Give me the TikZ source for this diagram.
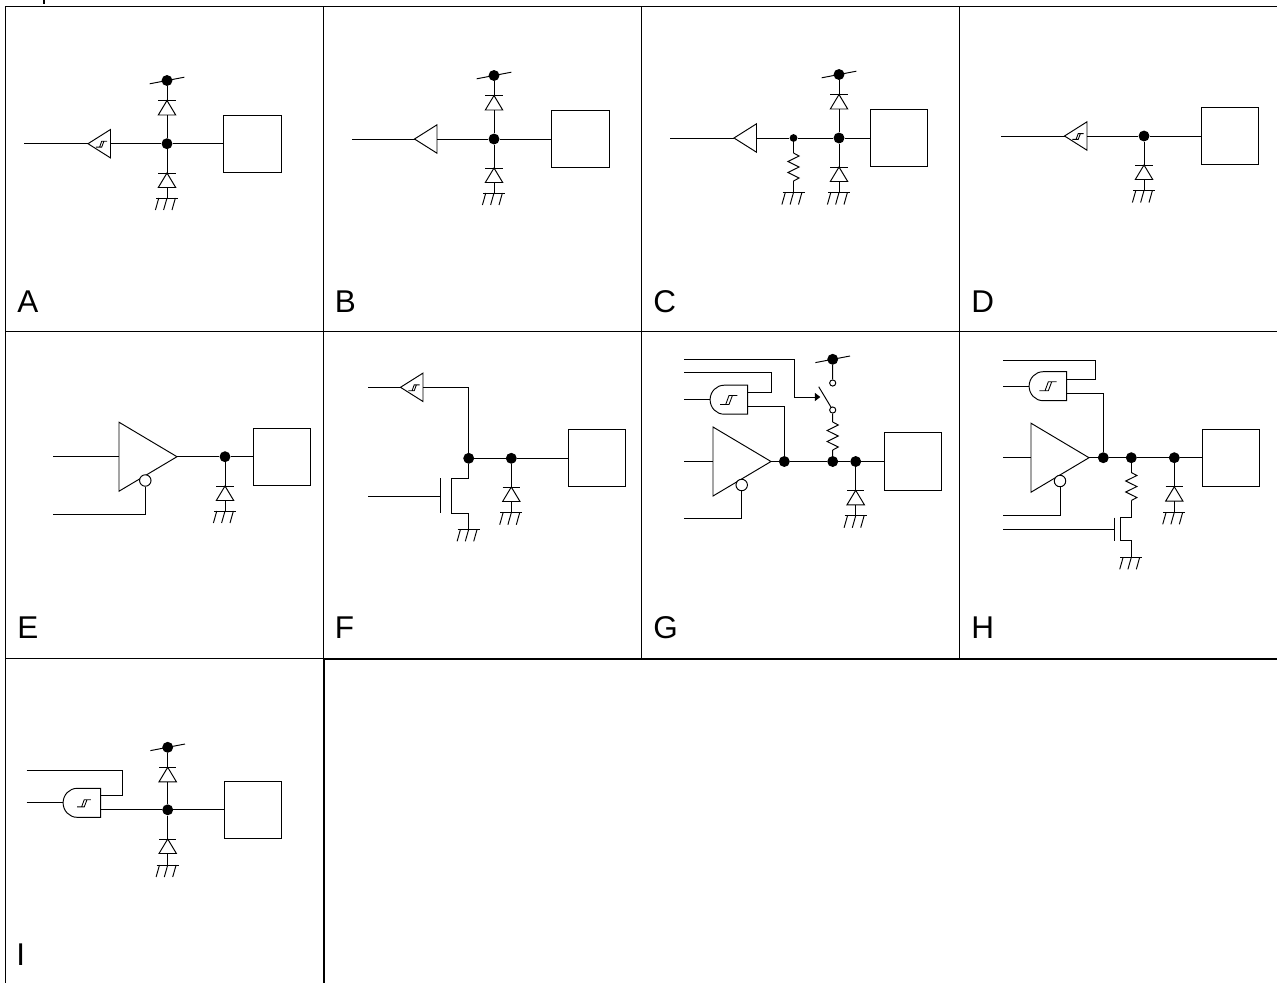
\documentclass[tikz,border=0pt]{standalone}
\usepackage{fontspec}
\setmainfont{Liberation Sans}
\usetikzlibrary{arrows.meta}
\tikzset{
  x=0.75pt,y=-0.75pt,
  ln/.style={line width=0.72pt,line join=miter,black},
  grid/.style={line width=0.72pt,black},
  heavy/.style={line width=1.5pt,black},
  dot/.style={circle,fill=black,draw=none,inner sep=0pt,minimum size=8.2pt},
  smalldot/.style={circle,fill=black,draw=none,inner sep=0pt,minimum size=5.8pt},
  bubble/.style={circle,ln,draw,fill=white,inner sep=0pt,minimum size=8.6pt},
  opencirc/.style={circle,ln,draw,fill=white,inner sep=0pt,minimum size=4.6pt},
  box/.style={rectangle,ln,draw,fill=white,inner sep=0pt,minimum size=42.8pt},
  lab/.style={anchor=base west,inner sep=0pt,font=\fontsize{23.6pt}{24pt}\selectfont},
  diode/.pic={
    \draw[ln] (-8.7,0) -- (8.7,0);
    \draw[ln] (0,0) -- (8.7,14.5) -- (-8.7,14.5) -- cycle;
    \coordinate (-a) at (0,0);
    \coordinate (-b) at (0,14.5);
  },
  gnd/.pic={
    \draw[ln] (-11,0) -- (11,0);
    \draw[ln] (-8.2,0) -- (-11.6,12) (0,0) -- (-3.4,12) (8.4,0) -- (5,12);
    \coordinate (-a) at (0,0);
  },
  rail/.pic={\draw[ln] (-17.3,3.3) -- (17.3,-3.3);},
  res/.pic={
    \draw[ln] (0,0) -- (5.6,3) -- (-5.6,8.5) -- (5.6,14) -- (-5.6,19.5) -- (5.6,25) -- (0,28);
    \coordinate (-a) at (0,0);
    \coordinate (-b) at (0,28);
  },
  smalltri/.pic={
    \draw[ln] (0,0) -- (22.5,-14.2) -- (22.5,14.2) -- cycle;
    \coordinate (-in) at (0,0);
    \coordinate (-out) at (22.5,0);
  },
  hyst/.pic={
    \draw[line width=0.65pt] (-8.7,4.5) -- (0.3,4.5) -- (3.7,-4.5) -- (8.7,-4.5)
      (-3,4.5) -- (0.3,-4.5) -- (3.7,-4.5);
  },
  bigtri/.pic={
    \draw[ln] (0,0) -- (-58,-34.5) -- (-58,34.5) -- cycle;
    \coordinate (-out) at (0,0);
    \coordinate (-in) at (-58,0);
  },
  andgate/.pic={
    \draw[ln] (0,-14.5) -- (-23.6,-14.5) arc[start angle=-90,end angle=-270,x radius=14,y radius=14.5] -- (0,14.5) -- cycle;
    \coordinate (-in) at (-37.6,0);
    \coordinate (-o1) at (0,-7);
    \coordinate (-o2) at (0,7);
  },
}
\begin{document}
\begin{tikzpicture}
\useasboundingbox (0,0) rectangle (1277,983);
% table
\coordinate (tl) at (5.5,6); \coordinate (tr) at (1277,6);
\coordinate (r1l) at (5.5,331.7); \coordinate (r1r) at (1277,331.7);
\coordinate (r2l) at (5.5,658.4); \coordinate (r2m) at (323.3,658.4); \coordinate (r2r) at (1277,659);
\coordinate (bl) at (5.5,983); \coordinate (bm) at (323.8,983);
\coordinate (c1t) at (323.3,6); \coordinate (c2t) at (641,6); \coordinate (c3t) at (959,6);
\coordinate (c2b) at (641,658.4); \coordinate (c3b) at (959,658.4); \coordinate (c1m) at (323.8,658.4);
\draw[grid] (tr) -- (tl) -- (bl);
\draw[grid] (r1l) -- (r1r);
\draw[grid] (r2l) -- (r2m);
\draw[grid] (c1t) -- (r2m);
\draw[grid] (c2t) -- (c2b);
\draw[grid] (c3t) -- (c3b);
\draw[heavy] (r2r) -- (324,659) (c1m) -- (bm);
\fill (42.7,0) rectangle (45.3,4);
% labels
\node[lab] (lA) at (17,312.8) {A};
\node[lab] (lB) at (334.5,312.8) {B};
\node[lab] (lC) at (653,312.8) {C};
\node[lab] (lD) at (971,312.8) {D};
\node[lab] (lE) at (17,638) {E};
\node[lab] (lF) at (334.5,638) {F};
\node[lab] (lG) at (653,638) {G};
\node[lab] (lH) at (971,638) {H};
\node[lab] (lI) at (16,965) {I};

% A
\coordinate (ain) at (24,143.7);
\pic (at) at (88,143.7) {smalltri};
\pic[scale=.65] at (101.5,144.2) {hyst};
\node[dot] (aj) at (167,143.7) {};
\node[dot] (atop) at (167,80.5) {};
\pic at (167,80.5) {rail};
\pic (ad1) at (167,100.5) {diode};
\pic (ad2) at (167,173) {diode};
\pic (ag) at (167,198) {gnd};
\node[box] (ab) at (252.5,143.7) {};
\draw[ln] (ain) -- (at-in) (at-out) -- (aj) -- (ab);
\draw[ln] (atop) -- (ad1-a) (ad1-b) -- (aj) -- (ad2-a) (ad2-b) -- (ag-a);

% B
\coordinate (bin) at (352,139);
\pic (bt) at (414.5,139) {smalltri};
\node[dot] (bj) at (494,139) {};
\node[dot] (btop) at (494,75.5) {};
\pic at (494,75.5) {rail};
\pic (bd1) at (494,95.5) {diode};
\pic (bd2) at (494,168) {diode};
\pic (bg) at (494,193) {gnd};
\node[box] (bb) at (580.5,139) {};
\draw[ln] (bin) -- (bt-in) (bt-out) -- (bj) -- (bb);
\draw[ln] (btop) -- (bd1-a) (bd1-b) -- (bj) -- (bd2-a) (bd2-b) -- (bg-a);

% C
\coordinate (cin) at (670,138);
\pic (ct) at (734,138) {smalltri};
\node[smalldot] (cs) at (793.5,138) {};
\pic (cr) at (793.5,153) {res};
\pic (cg1) at (793.5,192.5) {gnd};
\node[dot] (cj) at (839,138) {};
\node[dot] (ctop) at (839,74.5) {};
\pic at (839,74.5) {rail};
\pic (cd1) at (839,94.5) {diode};
\pic (cd2) at (839,167) {diode};
\pic (cg2) at (839,192.5) {gnd};
\node[box] (cb) at (899,138) {};
\draw[ln] (cin) -- (ct-in) (ct-out) -- (cs) -- (cj) -- (cb);
\draw[ln] (cs) -- (cr-a) (cr-b) -- (cg1-a);
\draw[ln] (ctop) -- (cd1-a) (cd1-b) -- (cj) -- (cd2-a) (cd2-b) -- (cg2-a);

% D
\coordinate (din) at (1001,136);
\pic (dt) at (1064.5,136) {smalltri};
\pic[scale=.65] at (1078,136.5) {hyst};
\node[dot] (dj) at (1144,136) {};
\pic (dd) at (1144,165) {diode};
\pic (dg) at (1144,190.5) {gnd};
\node[box] (db) at (1229.5,136) {};
\draw[ln] (din) -- (dt-in) (dt-out) -- (dj) -- (db);
\draw[ln] (dj) -- (dd-a) (dd-b) -- (dg-a);

% E
\coordinate (ein) at (53,456.7);
\coordinate (een) at (53,514);
\coordinate (eenb) at (145.3,514);
\pic (et) at (177,456.7) {bigtri};
\node[bubble] (ebub) at (145.3,480.5) {};
\node[dot] (ej) at (225,456.7) {};
\pic (ed) at (225,486) {diode};
\pic (eg) at (225,511) {gnd};
\node[box] (eb) at (282,456.7) {};
\draw[ln] (ein) -- (et-in) (et-out) -- (ej) -- (eb);
\draw[ln] (ebub) -- (eenb) -- (een);
\draw[ln] (ej) -- (ed-a) (ed-b) -- (eg-a);

% F
\coordinate (fin) at (368,387.3);
\pic (ft) at (400.5,387.3) {smalltri};
\pic[scale=.65] at (414,387.8) {hyst};
\coordinate (fc) at (468.7,387.3);
\node[dot] (fj) at (468.7,458.3) {};
\node[dot] (fk) at (511.3,458.3) {};
\pic (fd) at (511.3,487) {diode};
\pic (fg1) at (511.3,512.7) {gnd};
\node[box] (fb) at (597,458.3) {};
\coordinate (fgate) at (440,496);
\coordinate (fgin) at (368,496);
\coordinate (fgt) at (440,478.3); \coordinate (fgb) at (440,513.3);
\coordinate (fct) at (451.7,478.3); \coordinate (fcb) at (451.7,513.3);
\coordinate (fdr) at (468.7,478.3); \coordinate (fso) at (468.7,513.3);
\pic (fg2) at (468.7,529.3) {gnd};
\draw[ln] (fin) -- (ft-in) (ft-out) -- (fc) -- (fj) -- (fk) -- (fb);
\draw[ln] (fk) -- (fd-a) (fd-b) -- (fg1-a);
\draw[ln] (fgin) -- (fgate) (fgt) -- (fgb);
\draw[ln] (fj) -- (fdr) -- (fct) -- (fcb) -- (fso) -- (fg2-a);

% G
\coordinate (gi1) at (684,359.2);
\coordinate (gi1a) at (794.3,359.2);
\coordinate (gi1b) at (794.3,397);
\coordinate (gi1c) at (820.3,397);
\coordinate (gi2) at (684,372.7);
\coordinate (gi2a) at (771,372.7);
\coordinate (gi2b) at (771,392.7);
\coordinate (gi3) at (684,399.7);
\coordinate (gi4) at (684,461.5);
\coordinate (gi5) at (684,518.3);
\coordinate (gi5a) at (741.7,518.3);
\coordinate (go2a) at (784.3,406.7);
\pic (ga) at (747.7,399.7) {andgate};
\pic at (728.7,400) {hyst};
\pic (gt) at (771,461.5) {bigtri};
\node[bubble] (gbub) at (741.7,485) {};
\node[dot] (gj1) at (784.3,461.5) {};
\node[dot] (gj2) at (832.7,461.5) {};
\node[dot] (gj3) at (855.7,461.5) {};
\node[dot] (gtop) at (832.7,359.3) {};
\pic at (832.7,359.3) {rail};
\node[opencirc] (gs1) at (832.7,383) {};
\node[opencirc] (gs2) at (832.7,410) {};
\coordinate (gblade) at (818.7,386.7);
\pic (gr) at (832.7,422) {res};
\pic (gd) at (855.7,490.3) {diode};
\pic (gg) at (855.7,515.7) {gnd};
\node[box] (gb) at (913,461.5) {};
\draw[ln] (gi1) -- (gi1a) -- (gi1b);
\draw[ln,-{Triangle[length=4pt,width=6pt]}] (gi1b) -- (gi1c);
\draw[ln] (gi2) -- (gi2a) -- (gi2b) -- (ga-o1);
\draw[ln] (gi3) -- (ga-in);
\draw[ln] (ga-o2) -- (go2a) -- (gj1);
\draw[ln] (gi4) -- (gt-in) (gt-out) -- (gj1) -- (gj2) -- (gj3) -- (gb);
\draw[ln] (gbub) -- (gi5a) -- (gi5);
\draw[ln] (gtop) -- (gs1) (gblade) -- (gs2) (gs2) -- (gr-a) (gr-b) -- (gj2);
\draw[ln] (gj3) -- (gd-a) (gd-b) -- (gg-a);

% H
\coordinate (hi2) at (1003,360);
\coordinate (hi2a) at (1095.3,360);
\coordinate (hi2b) at (1095.3,379.2);
\coordinate (hi3) at (1003,386.2);
\coordinate (hi4) at (1003,457.7);
\coordinate (hi5) at (1003,515);
\coordinate (hi5a) at (1060,515);
\coordinate (hi6) at (1003,529.3);
\coordinate (ho2a) at (1103.3,393.2);
\pic (ha) at (1066.7,386.2) {andgate};
\pic at (1048,386.3) {hyst};
\pic (ht) at (1089,457.7) {bigtri};
\node[bubble] (hbub) at (1060,481) {};
\node[dot] (hj1) at (1103.3,457.7) {};
\node[dot] (hj2) at (1131.3,457.7) {};
\node[dot] (hj3) at (1174.3,457.7) {};
\pic (hr) at (1131.3,472.5) {res};
\pic (hd) at (1174.3,486.7) {diode};
\pic (hg1) at (1174.3,512.3) {gnd};
\node[box] (hb) at (1231.3,457.7) {};
\coordinate (hgate) at (1114.3,529.3);
\coordinate (hgt) at (1114.3,517.7); \coordinate (hgb) at (1114.3,540.7);
\coordinate (hct) at (1120,517.7); \coordinate (hcb) at (1120,540.7);
\coordinate (hdr) at (1131.3,517.7); \coordinate (hso) at (1131.3,540.7);
\pic (hg2) at (1131.3,557.3) {gnd};
\draw[ln] (hi2) -- (hi2a) -- (hi2b) -- (ha-o1);
\draw[ln] (hi3) -- (ha-in);
\draw[ln] (ha-o2) -- (ho2a) -- (hj1);
\draw[ln] (hi4) -- (ht-in) (ht-out) -- (hj1) -- (hj2) -- (hj3) -- (hb);
\draw[ln] (hbub) -- (hi5a) -- (hi5);
\draw[ln] (hj2) -- (hr-a) (hr-b) -- (hdr) -- (hct) -- (hcb) -- (hso) -- (hg2-a);
\draw[ln] (hi6) -- (hgate) (hgt) -- (hgb);
\draw[ln] (hj3) -- (hd-a) (hd-b) -- (hg1-a);

% I
\coordinate (ii2) at (26.7,770);
\coordinate (ii2a) at (122.3,770);
\coordinate (ii2b) at (122.3,795.8);
\coordinate (ii3) at (26.7,802.8);
\pic (ia) at (100.7,802.8) {andgate};
\pic[scale=.8] at (84,803.3) {hyst};
\node[dot] (ij) at (167.7,809.8) {};
\node[dot] (itop) at (167.7,747.3) {};
\pic at (167.7,747.3) {rail};
\pic (id1) at (167.7,767.3) {diode};
\pic (id2) at (167.7,839) {diode};
\pic (ig) at (167.7,865) {gnd};
\node[box] (ib) at (253,809.8) {};
\draw[ln] (ii2) -- (ii2a) -- (ii2b) -- (ia-o1);
\draw[ln] (ii3) -- (ia-in);
\draw[ln] (ia-o2) -- (ij) -- (ib);
\draw[ln] (itop) -- (id1-a) (id1-b) -- (ij) -- (id2-a) (id2-b) -- (ig-a);
\end{tikzpicture}
\end{document}
